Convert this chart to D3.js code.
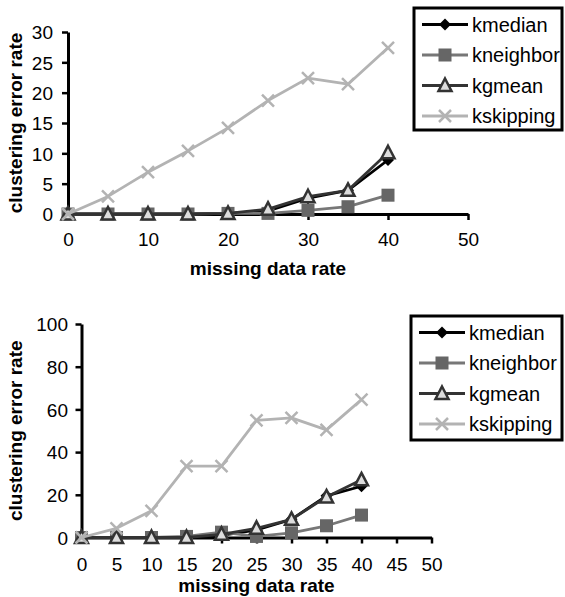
<!DOCTYPE html>
<html>
<head>
<meta charset="utf-8">
<script src="https://cdn.jsdelivr.net/npm/d3@7"></script>
<style>
  body { margin: 0; background: #fff; }
  svg { display: block; font-family: "Liberation Sans", Arial, sans-serif; }
</style>
</head>
<body>
<div id="chart"></div>
<script>
var svgWidth = 565;
var svgHeight = 597;

var rates = [0, 5, 10, 15, 20, 25, 30, 35, 40];
var seriesNames = ["kmedian", "kneighbor", "kgmean", "kskipping"];

// top chart values
var topKmedian = [0, 0, 0, 0, 0.1, 0.5, 2.6, 3.9, 8.9];
var topKneighbor = [0, 0, 0, 0, 0.1, 0.1, 0.6, 1.2, 3.1];
var topKgmean = [0, 0, 0, 0, 0.1, 0.8, 2.85, 3.9, 10.1];
var topKskipping = [0, 2.9, 6.9, 10.4, 14.2, 18.7, 22.4, 21.4, 27.4];
var topXTicks = [0, 10, 20, 30, 40, 50];
var topYTicks = [0, 5, 10, 15, 20, 25, 30];

// bottom chart values
var botKmedian = [0, 0, 0, 0, 1, 3.5, 8.5, 19.5, 24];
var botKneighbor = [0, 0, 0, 0.5, 2.5, 0.5, 2.2, 5.5, 10.5];
var botKgmean = [0, 0, 0, 0, 1.5, 4.3, 8.5, 19, 27];
var botKskipping = [0, 4.3, 12.5, 33.4, 33.4, 54.9, 56, 50.4, 64.6];
var botXTicks = [0, 5, 10, 15, 20, 25, 30, 35, 40, 45, 50];
var botYTicks = [0, 20, 40, 60, 80, 100];

var styles = {
  kmedian:   { line: "#000", fill: "#000", stroke: "#000", shape: "diamond" },
  kneighbor: { line: "#777", fill: "#666", stroke: "#666", shape: "square" },
  kgmean:    { line: "#333", fill: "#ddd", stroke: "#333", shape: "triangle" },
  kskipping: { line: "#b3b3b3", fill: "none", stroke: "#b3b3b3", shape: "cross" }
};

var svg = d3.select("#chart").append("svg")
  .attr("width", svgWidth)
  .attr("height", svgHeight);

function drawMarker(g, shape, st) {
  if (shape === "diamond") {
    g.append("path").attr("d", "M0,-6L6,0L0,6L-6,0Z").attr("fill", st.fill);
  } else if (shape === "square") {
    g.append("rect").attr("x", -6.5).attr("y", -6.5).attr("width", 13).attr("height", 13)
      .attr("fill", st.fill);
  } else if (shape === "triangle") {
    g.append("path").attr("d", "M0,-7L6.5,5.5L-6.5,5.5Z")
      .attr("fill", st.fill).attr("stroke", st.stroke).attr("stroke-width", 2.5)
      .attr("stroke-linejoin", "miter");
  } else {
    g.append("path").attr("d", "M-6,-6L6,6M-6,6L6,-6")
      .attr("stroke", st.stroke).attr("stroke-width", 2.5).attr("fill", "none");
  }
}

function drawChart(cfg) {
  var x = d3.scaleLinear().domain([0, 50]).range([cfg.left, cfg.right]);
  var y = d3.scaleLinear().domain([0, cfg.yMax]).range([cfg.bottom, cfg.top]);

  var g = svg.append("g");

  var xAxis = g.append("g")
    .attr("transform", `translate(0, ${cfg.bottom})`)
    .call(d3.axisBottom(x).tickValues(cfg.xTicks).tickSize(6).tickSizeOuter(0).tickPadding(cfg.xPad));
  var yAxis = g.append("g")
    .attr("transform", `translate(${cfg.left}, 0)`)
    .call(d3.axisLeft(y).tickValues(cfg.yTicks).tickSize(6).tickSizeOuter(0).tickPadding(cfg.yPad));

  [xAxis, yAxis].forEach(function(a) {
    a.attr("font-size", null).attr("font-family", null);
    a.select(".domain").attr("stroke", "#000").attr("stroke-width", 3);
    a.selectAll(".tick line").attr("stroke", "#000").attr("stroke-width", 2.5);
    a.selectAll(".tick text").style("font-size", "19px").attr("fill", "#000");
  });
  yAxis.selectAll(".tick text").attr("dy", "0.36em");

  g.append("text")
    .attr("x", (cfg.left + cfg.right) / 2)
    .attr("y", cfg.xTitleY)
    .attr("text-anchor", "middle")
    .style("font-size", "19px").attr("font-weight", "bold")
    .text("missing data rate");

  g.append("text")
    .attr("transform", `translate(${cfg.yTitleX}, ${(cfg.top + cfg.bottom) / 2}) rotate(-90)`)
    .attr("text-anchor", "middle")
    .style("font-size", "19px").attr("font-weight", "bold")
    .text("clustering error rate");

  var line = d3.line()
    .x(function(d, i) { return x(rates[i]); })
    .y(function(d) { return y(d); });

  seriesNames.forEach(function(name, si) {
    var st = styles[name];
    var vals = cfg.series[si];
    g.append("path")
      .datum(vals)
      .attr("d", line)
      .attr("fill", "none")
      .attr("stroke", st.line)
      .attr("stroke-width", 2.8)
      .attr("stroke-linejoin", "round");
    vals.forEach(function(v, i) {
      var m = g.append("g").attr("transform", `translate(${x(rates[i])}, ${y(v)})`);
      drawMarker(m, st.shape, st);
    });
  });

  // legend
  var lg = g.append("g");
  lg.append("rect")
    .attr("x", cfg.legend.x).attr("y", cfg.legend.y)
    .attr("width", cfg.legend.w).attr("height", cfg.legend.h)
    .attr("fill", "#fff").attr("stroke", "#000").attr("stroke-width", 3);
  seriesNames.forEach(function(name, i) {
    var st = styles[name];
    var ry = cfg.legend.y + 16.5 + i * 30.5;
    var x0 = cfg.legend.x + 8, x1 = cfg.legend.x + 54;
    lg.append("line").attr("x1", x0).attr("x2", x1).attr("y1", ry).attr("y2", ry)
      .attr("stroke", st.line).attr("stroke-width", 2.8);
    var m = lg.append("g").attr("transform", `translate(${(x0 + x1) / 2}, ${ry})`);
    drawMarker(m, st.shape, st);
    lg.append("text").attr("x", x1 + 4).attr("y", ry).attr("dy", "0.35em")
      .style("font-size", "20px").text(name);
  });
}

drawChart({
  left: 68, right: 468, top: 32, bottom: 214, yMax: 30,
  xTicks: topXTicks, yTicks: topYTicks, xPad: 13, yPad: 9,
  xTitleY: 275, yTitleX: 22,
  series: [topKmedian, topKneighbor, topKgmean, topKskipping],
  legend: { x: 414, y: 8, w: 148, h: 122 }
});

drawChart({
  left: 81.5, right: 431.5, top: 324, bottom: 537.5, yMax: 100,
  xTicks: botXTicks, yTicks: botYTicks, xPad: 14, yPad: 7.5,
  xTitleY: 592, yTitleX: 22,
  series: [botKmedian, botKneighbor, botKgmean, botKskipping],
  legend: { x: 411, y: 316, w: 151, h: 124 }
});
</script>
</body>
</html>
